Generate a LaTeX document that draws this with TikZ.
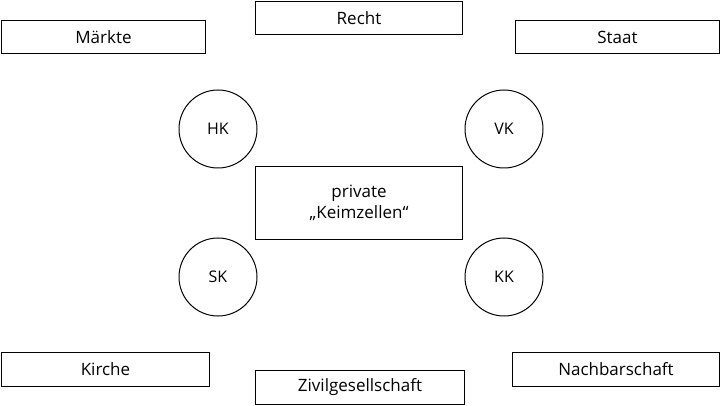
\documentclass[tikz,border=0pt]{standalone}
\usepackage{fontspec}
\setmainfont{Open Sans}
\begin{document}
\begin{tikzpicture}[x=1pt,y=-1pt,
  bx/.style={draw,line width=1pt,inner sep=0pt,anchor=north west,font=\fontsize{17}{21}\selectfont},
  cir/.style={draw,circle,line width=1pt,minimum size=78pt,inner sep=0pt,font=\fontsize{16}{20}\selectfont}]
\useasboundingbox (0,0) rectangle (721,406);
\node[bx,minimum width=204pt,minimum height=33pt] (m) at (1,20) {Märkte};
\node[bx,minimum width=207pt,minimum height=33pt] (r) at (255,1) {Recht};
\node[bx,minimum width=204pt,minimum height=33pt] (s) at (515,20) {Staat};
\node[bx,minimum width=208pt,minimum height=34pt] (k) at (1,352) {Kirche};
\node[bx,minimum width=209pt,minimum height=34pt] (z) at (255,370) {Zivilgesellschaft};
\node[bx,minimum width=207pt,minimum height=34pt] (n) at (512,352) {Nachbarschaft};
\node[bx,minimum width=207pt,minimum height=73pt,align=center] (c) at (255,166) {private\\„Keimzellen“};
\node[cir] (hk) at (218,129) {HK};
\node[cir] (vk) at (504,129) {VK};
\node[cir] (sk) at (218,277) {SK};
\node[cir] (kk) at (504,277) {KK};
\end{tikzpicture}
\end{document}
